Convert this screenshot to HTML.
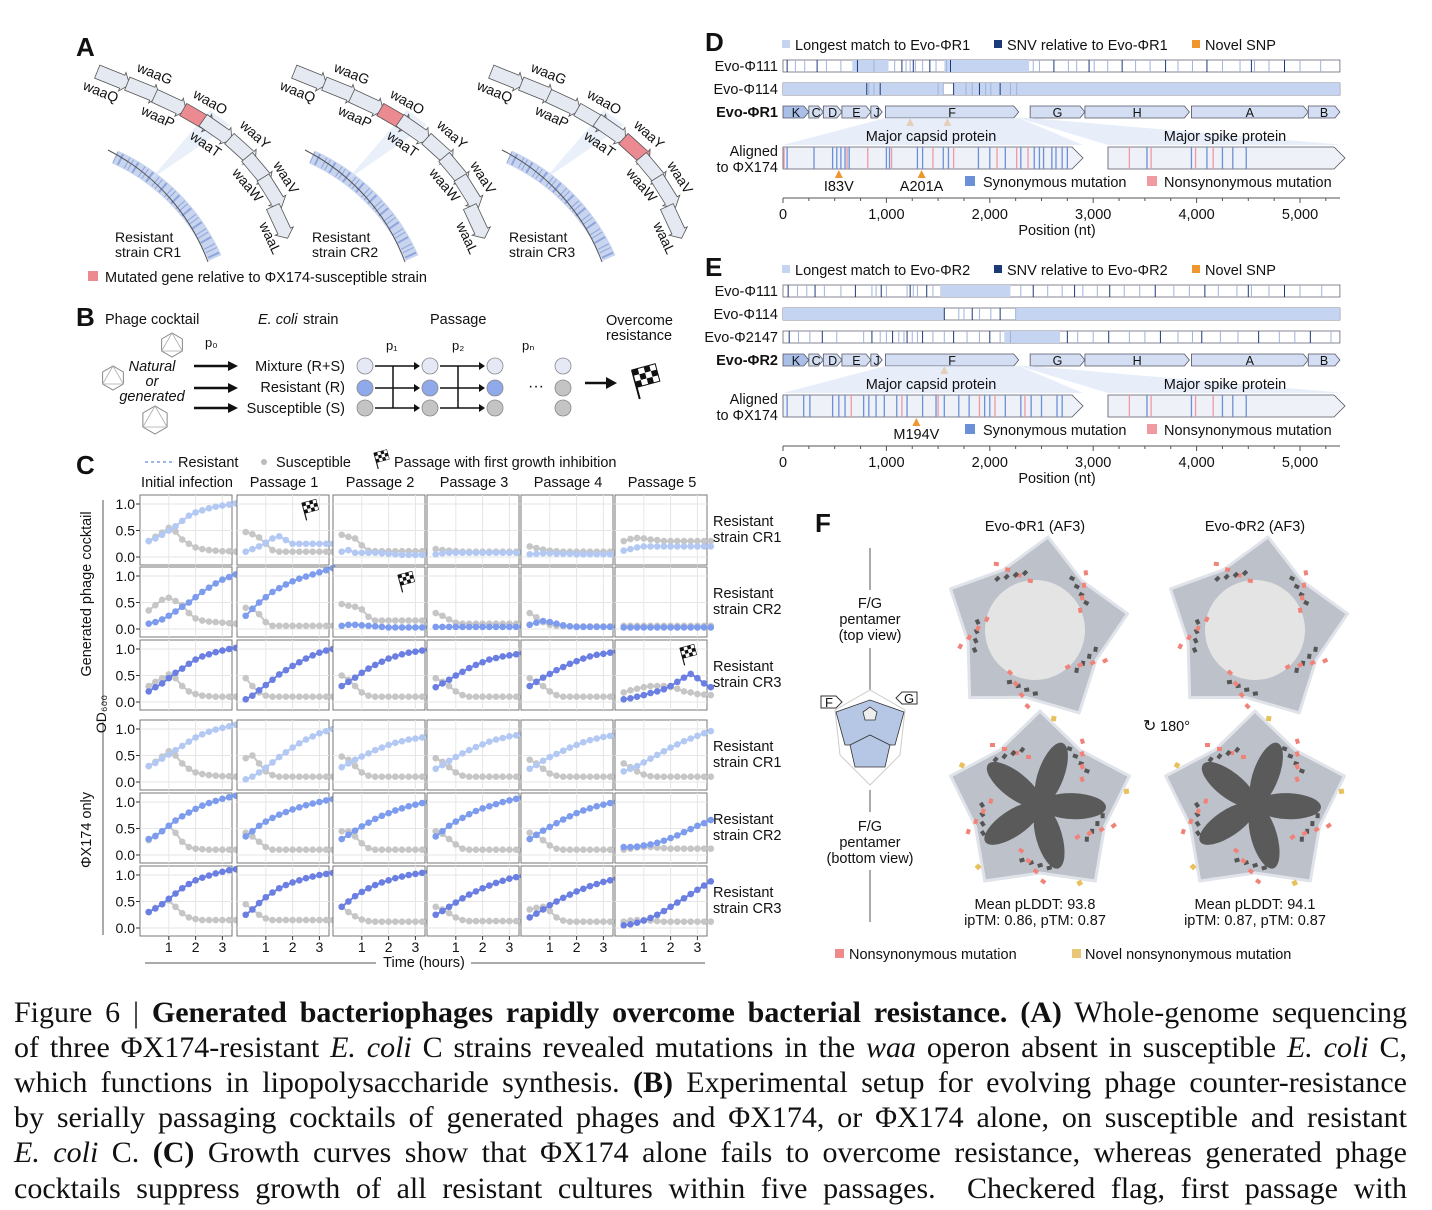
<!DOCTYPE html>
<html><head><meta charset="utf-8">
<style>
html,body{margin:0;padding:0;background:#fff;}
body{width:1432px;height:1210px;position:relative;overflow:hidden;font-family:"Liberation Sans",sans-serif;}
#fig{position:absolute;left:0;top:0;}
.cap{position:absolute;left:14px;width:1393px;font-family:"Liberation Serif",serif;font-size:30px;line-height:35.5px;text-align:justify;text-align-last:justify;white-space:nowrap;color:#111;}
</style></head>
<body>
<svg id="fig" width="1432" height="985" viewBox="0 0 1432 985" xmlns="http://www.w3.org/2000/svg" font-family="Liberation Sans, sans-serif"></svg>
<div>
<div class="cap" style="top:995px"><span>Figure 6 | <b>Generated bacteriophages rapidly overcome bacterial resistance.</b> <b>(A)</b> Whole-genome sequencing</span></div>
<div class="cap" style="top:1030px"><span>of three ΦX174-resistant <i>E. coli</i> C strains revealed mutations in the <i>waa</i> operon absent in susceptible <i>E. coli</i> C,</span></div>
<div class="cap" style="top:1065px"><span>which functions in lipopolysaccharide synthesis. <b>(B)</b> Experimental setup for evolving phage counter-resistance</span></div>
<div class="cap" style="top:1100px"><span>by serially passaging cocktails of generated phages and ΦX174, or ΦX174 alone, on susceptible and resistant</span></div>
<div class="cap" style="top:1135px"><span><i>E. coli</i> C. <b>(C)</b> Growth curves show that ΦX174 alone fails to overcome resistance, whereas generated phage</span></div>
<div class="cap" style="top:1171px"><span>cocktails suppress growth of all resistant cultures within five passages. &nbsp;Checkered flag, first passage with</span></div>
</div>
<script>
// ---------- Panel C data ----------
const times = [0.25,0.5,0.75,1,1.25,1.5,1.75,2,2.25,2.5,2.75,3,3.25,3.5];
const columnTitles = ["Initial infection","Passage 1","Passage 2","Passage 3","Passage 4","Passage 5"];
const rowStrains = ["CR1","CR2","CR3","CR1","CR2","CR3"];
const yTicks = [0.0,0.5,1.0];
const xTicks = [1,2,3];
const flagCells = [[0,1],[1,2],[2,5]];
const resistantSeries = [
 [[0.3,0.35,0.42,0.5,0.58,0.68,0.78,0.84,0.88,0.92,0.95,0.97,0.99,1.01],[0.1,0.15,0.2,0.27,0.35,0.39,0.32,0.25,0.25,0.25,0.25,0.25,0.25,0.25],[0.1,0.13,0.08,0.08,0.08,0.08,0.07,0.06,0.05,0.04,0.04,0.04,0.04,0.04],[0.05,0.07,0.08,0.08,0.08,0.08,0.08,0.08,0.08,0.08,0.08,0.08,0.08,0.08],[0.05,0.06,0.07,0.07,0.06,0.06,0.06,0.05,0.05,0.05,0.05,0.05,0.05,0.05],[0.12,0.15,0.18,0.2,0.2,0.2,0.2,0.2,0.2,0.2,0.2,0.2,0.2,0.2]],
 [[0.1,0.13,0.18,0.25,0.33,0.42,0.5,0.6,0.7,0.78,0.86,0.93,0.98,1.03],[0.25,0.38,0.5,0.6,0.7,0.77,0.84,0.9,0.95,0.99,1.03,1.07,1.11,1.15],[0.06,0.08,0.08,0.07,0.06,0.05,0.04,0.03,0.03,0.03,0.03,0.03,0.03,0.03],[0.04,0.04,0.04,0.04,0.04,0.04,0.04,0.04,0.04,0.04,0.04,0.04,0.04,0.04],[0.08,0.12,0.15,0.13,0.1,0.07,0.05,0.04,0.04,0.04,0.04,0.04,0.04,0.04],[0.03,0.03,0.03,0.03,0.03,0.03,0.03,0.03,0.03,0.03,0.03,0.03,0.03,0.03]],
 [[0.2,0.28,0.35,0.45,0.55,0.63,0.72,0.8,0.86,0.9,0.94,0.97,1.0,1.02],[0.05,0.12,0.22,0.32,0.42,0.52,0.6,0.68,0.75,0.82,0.88,0.93,0.97,1.0],[0.3,0.38,0.46,0.55,0.63,0.7,0.76,0.82,0.86,0.9,0.93,0.95,0.97,0.99],[0.28,0.35,0.42,0.5,0.57,0.64,0.7,0.75,0.8,0.83,0.86,0.88,0.9,0.92],[0.3,0.38,0.46,0.53,0.6,0.66,0.72,0.77,0.82,0.86,0.89,0.91,0.93,0.95],[0.05,0.07,0.1,0.13,0.17,0.2,0.24,0.3,0.38,0.46,0.53,0.45,0.35,0.28]],
 [[0.3,0.36,0.44,0.52,0.6,0.68,0.76,0.84,0.9,0.95,0.99,1.02,1.05,1.08],[0.05,0.1,0.18,0.27,0.37,0.47,0.56,0.65,0.73,0.8,0.86,0.92,0.96,1.0],[0.28,0.35,0.42,0.48,0.54,0.6,0.65,0.7,0.74,0.77,0.8,0.82,0.84,0.86],[0.25,0.32,0.4,0.47,0.54,0.6,0.66,0.71,0.76,0.8,0.83,0.86,0.88,0.9],[0.25,0.32,0.4,0.47,0.53,0.59,0.65,0.7,0.75,0.79,0.82,0.85,0.87,0.89],[0.2,0.25,0.3,0.37,0.44,0.51,0.58,0.65,0.71,0.77,0.82,0.87,0.92,0.96]],
 [[0.3,0.36,0.45,0.55,0.65,0.73,0.8,0.87,0.93,0.98,1.02,1.06,1.09,1.12],[0.35,0.45,0.55,0.63,0.7,0.76,0.81,0.86,0.9,0.94,0.97,1.0,1.03,1.05],[0.3,0.38,0.46,0.54,0.61,0.68,0.74,0.79,0.84,0.88,0.92,0.95,0.98,1.0],[0.35,0.45,0.55,0.63,0.7,0.77,0.83,0.88,0.92,0.96,1.0,1.03,1.06,1.08],[0.3,0.38,0.46,0.53,0.6,0.67,0.73,0.79,0.84,0.88,0.92,0.95,0.98,1.0],[0.15,0.15,0.16,0.18,0.2,0.23,0.27,0.32,0.37,0.43,0.49,0.55,0.6,0.66]],
 [[0.3,0.37,0.45,0.55,0.65,0.75,0.83,0.9,0.95,0.99,1.03,1.06,1.09,1.11],[0.25,0.35,0.47,0.58,0.67,0.75,0.81,0.86,0.9,0.94,0.97,1.0,1.02,1.04],[0.4,0.5,0.6,0.68,0.75,0.81,0.86,0.9,0.94,0.97,1.0,1.02,1.04,1.06],[0.25,0.32,0.4,0.48,0.56,0.63,0.69,0.75,0.8,0.85,0.89,0.93,0.96,0.98],[0.2,0.27,0.35,0.43,0.5,0.57,0.63,0.69,0.74,0.79,0.83,0.87,0.9,0.93],[0.05,0.07,0.1,0.14,0.19,0.25,0.32,0.4,0.48,0.56,0.64,0.72,0.8,0.88]]
];
const susceptibleSeries = [
 [[0.3,0.38,0.46,0.55,0.48,0.33,0.25,0.18,0.15,0.13,0.12,0.11,0.11,0.1],[0.47,0.43,0.37,0.25,0.13,0.1,0.1,0.1,0.1,0.1,0.1,0.1,0.1,0.1],[0.42,0.38,0.35,0.22,0.12,0.11,0.11,0.11,0.11,0.11,0.11,0.11,0.11,0.11],[0.15,0.13,0.12,0.11,0.1,0.1,0.1,0.1,0.1,0.1,0.1,0.1,0.1,0.1],[0.2,0.17,0.14,0.12,0.11,0.1,0.1,0.1,0.1,0.1,0.1,0.1,0.1,0.1],[0.3,0.34,0.36,0.35,0.33,0.32,0.3,0.3,0.3,0.3,0.3,0.3,0.3,0.3]],
 [[0.35,0.45,0.55,0.59,0.53,0.45,0.3,0.2,0.16,0.14,0.13,0.12,0.11,0.1],[0.4,0.38,0.28,0.13,0.06,0.06,0.06,0.06,0.06,0.06,0.06,0.06,0.06,0.06],[0.47,0.44,0.42,0.37,0.23,0.16,0.16,0.16,0.16,0.16,0.16,0.16,0.16,0.16],[0.3,0.25,0.18,0.12,0.1,0.1,0.1,0.1,0.1,0.1,0.1,0.1,0.1,0.1],[0.3,0.22,0.13,0.08,0.06,0.05,0.05,0.05,0.05,0.05,0.05,0.05,0.05,0.05],[0.06,0.06,0.06,0.06,0.06,0.06,0.06,0.06,0.06,0.06,0.06,0.06,0.06,0.06]],
 [[0.3,0.38,0.45,0.52,0.45,0.3,0.2,0.15,0.12,0.11,0.1,0.1,0.1,0.1],[0.45,0.3,0.18,0.12,0.1,0.1,0.1,0.1,0.1,0.1,0.1,0.1,0.1,0.1],[0.5,0.42,0.3,0.18,0.12,0.1,0.1,0.1,0.1,0.1,0.1,0.1,0.1,0.1],[0.45,0.38,0.3,0.2,0.13,0.1,0.1,0.1,0.1,0.1,0.1,0.1,0.1,0.1],[0.45,0.38,0.3,0.2,0.13,0.1,0.1,0.1,0.1,0.1,0.1,0.1,0.1,0.1],[0.18,0.22,0.25,0.28,0.3,0.3,0.3,0.28,0.25,0.2,0.18,0.15,0.14,0.13]],
 [[0.3,0.38,0.48,0.58,0.5,0.35,0.25,0.18,0.15,0.13,0.12,0.11,0.11,0.1],[0.45,0.5,0.35,0.2,0.13,0.1,0.1,0.1,0.1,0.1,0.1,0.1,0.1,0.1],[0.48,0.42,0.3,0.18,0.12,0.1,0.1,0.1,0.1,0.1,0.1,0.1,0.1,0.1],[0.45,0.38,0.28,0.18,0.12,0.1,0.1,0.1,0.1,0.1,0.1,0.1,0.1,0.1],[0.42,0.35,0.25,0.16,0.12,0.1,0.1,0.1,0.1,0.1,0.1,0.1,0.1,0.1],[0.35,0.28,0.2,0.14,0.11,0.1,0.1,0.1,0.1,0.1,0.1,0.1,0.1,0.1]],
 [[0.28,0.35,0.45,0.55,0.42,0.25,0.15,0.12,0.11,0.1,0.1,0.1,0.1,0.1],[0.42,0.35,0.25,0.15,0.1,0.1,0.1,0.1,0.1,0.1,0.1,0.1,0.1,0.1],[0.45,0.45,0.35,0.22,0.13,0.1,0.1,0.1,0.1,0.1,0.1,0.1,0.1,0.1],[0.45,0.4,0.3,0.2,0.12,0.1,0.1,0.1,0.1,0.1,0.1,0.1,0.1,0.1],[0.42,0.38,0.28,0.18,0.12,0.1,0.1,0.1,0.1,0.1,0.1,0.1,0.1,0.1],[0.1,0.12,0.14,0.15,0.15,0.14,0.13,0.12,0.12,0.12,0.12,0.12,0.12,0.12]],
 [[0.3,0.38,0.45,0.52,0.4,0.28,0.2,0.17,0.15,0.15,0.15,0.15,0.15,0.15],[0.45,0.35,0.25,0.18,0.15,0.15,0.15,0.15,0.15,0.15,0.15,0.15,0.15,0.15],[0.4,0.3,0.22,0.16,0.13,0.12,0.12,0.12,0.12,0.12,0.12,0.12,0.12,0.12],[0.4,0.35,0.28,0.2,0.15,0.13,0.13,0.13,0.13,0.13,0.13,0.13,0.13,0.13],[0.35,0.38,0.4,0.32,0.2,0.14,0.12,0.12,0.12,0.12,0.12,0.12,0.12,0.12],[0.12,0.14,0.15,0.15,0.14,0.13,0.12,0.12,0.12,0.12,0.12,0.12,0.12,0.12]]
];
// ---------- Panels D/E genome data (nt) ----------
const genesNt = [["K",0,250],["C",250,390],["D",390,570],["E",570,850],["J",850,960],["F",990,2280],["G",2390,2920],["H",2920,3930],["A",3950,5080],["B",5080,5386]];
const d111Match = [[670,1020],[1560,2380]];
const d111Snv = [40,120,210,330,420,560,720,880,1080,1150,1190,1230,1260,1280,1350,1420,1480,1580,1620,2420,2480,2620,2760,2840,2960,3010,3140,3280,3410,3550,3700,3820,3960,4100,4250,4420,4530,4560,4700,4850,5000,5200];
const d114Match = [[0,1550],[1650,5386]];
const d114Snv = [810,830,880,940,1500,1550,1650,1770,1830,1900,1960,2010,2100,2200,2260];
const capsidSyn = [40,300,480,520,560,600,640,1000,1030,1300,1350,1550,1600,1890,2000,2150,2300,2430,2480,2520,2600,2640,2700,2750];
const capsidNon = [10,620,820,1050,1450,1650,2070,2260,2370];
const spikeSyn = [3520,3950,4100,4250,4350,4480];
const spikeNon = [3350,3560,3990,4160];
const e111Match = [[1520,2200]];
const e111Snv = [50,140,230,310,400,560,700,860,900,950,1000,1200,1230,1260,1300,1390,1450,2300,2420,2560,2700,2820,2900,3040,3160,3300,3450,3600,3780,3930,4080,4210,4390,4500,4530,4700,4850,5000,5210];
const e114Match = [[0,1560],[2250,5386]];
const e114Snv = [1560,1700,1750,1830,1900,2010,2100,2250];
const e2147Match = [[2140,2680]];
const e2147Snv = [60,150,260,380,520,780,860,940,1000,1060,1120,1170,1200,1250,1300,1350,1450,1560,1650,1780,1900,2000,2100,2200,2750,2850,3000,3150,3350,3500,3650,3820,3960,4050,4230,4400,4600,4800,4950,5100,5300];
const eCapsidSyn = [40,200,260,480,540,600,780,830,900,980,1100,1200,1350,1480,1560,1700,1800,1950,2000,2150,2300,2400,2500,2650,2700];
const eCapsidNon = [660,1150,1500,1900,2050,2340];
const eSpikeSyn = [3520,3950,4250,4350,4480];
const eSpikeNon = [3350,3560,3990,4160];
const axisTicksNt = [0,1000,2000,3000,4000,5000];

const svg = document.getElementById('fig');
const NS = "http://www.w3.org/2000/svg";
function mk(tag, attrs, parent, text){
  const e = document.createElementNS(NS, tag);
  for (const k in attrs) e.setAttribute(k, attrs[k]);
  if (text !== undefined) e.textContent = text;
  (parent||svg).appendChild(e);
  return e;
}
function txt(x,y,s,size,opts,parent){
  const o = Object.assign({x:x,y:y,'font-size':size||14,fill:'#111'}, opts||{});
  return mk('text', o, parent, s);
}
function grp(name){ const g = mk('g',{});   return g; }

// ---------- Panel A ----------
const gA = grp('panel-a');
txt(76,56,'A',26,{'font-weight':'bold'},gA);
const geneNames = ['waaQ','waaG','waaP','waaO','waaT','waaY','waaW','waaV','waaL'];
const geneCenters = [[113,78],[143,90],[170,103],[198,118],[217,130],[242,150],[258,170],[272,192],[280,222]];
const geneAngles = [22,22,25,30,35,42,50,58,65];
const redIdx = [3,3,5];
[0,197,394].forEach((dx,gi)=>{
  const g = grp('operon-'+(gi+1)); gA.appendChild(g);
  mk('path',{d:`M ${115+dx} 157 A 200 200 0 0 1 ${215+dx} 258`,fill:'none',stroke:'#c9d5ee','stroke-width':14},g);
  mk('path',{d:`M ${115+dx} 157 A 200 200 0 0 1 ${215+dx} 258`,fill:'none',stroke:'#8ea6de','stroke-width':12,'stroke-dasharray':'1 4 2 6 1 3'},g);
  mk('path',{d:`M ${108+dx} 150 A 207 207 0 0 1 ${208+dx} 262`,fill:'none',stroke:'#555','stroke-width':1},g);
  mk('path',{d:`M ${150+dx} 180 L ${210+dx} 110 L ${230+dx} 125 Z`,fill:'#dbe6f7',opacity:0.6},g);
  geneCenters.forEach((c,i)=>{
    const cx=c[0]+dx, cy=c[1];
    const red = (i===redIdx[gi]);
    const ge = mk('g',{transform:`translate(${cx},${cy}) rotate(${geneAngles[i]})`},g);
    mk('polygon',{points:'-17,-7 10,-7 10,-10 18,0 10,10 10,7 -17,7',fill:red?'#ec8a92':'#e4e9f2',stroke:'#555','stroke-width':0.8},ge);
    const lx = cx + (i%2===0 ? -14 : 10), ly = cy + (i%2===0 ? 18 : -12);
    txt(lx,ly,geneNames[i],14,{transform:`rotate(${geneAngles[i]} ${lx} ${ly})`,'text-anchor':'middle'},g);
  });
  txt(115+dx,242,'Resistant',14,{},g);
  txt(115+dx,257,'strain CR'+(gi+1),14,{},g);
});
mk('rect',{x:88,y:271,width:10,height:10,fill:'#ec8a92'},gA);
txt(105,282,'Mutated gene relative to ΦX174-susceptible strain',14.5,{},gA);

// ---------- Panel B ----------
const gB = grp('panel-b');
txt(76,326,'B',26,{'font-weight':'bold'},gB);
txt(105,324,'Phage cocktail',14.5,{},gB);
txt(258,324,'E. coli',14.5,{'font-style':'italic'},gB); txt(303,324,'strain',14.5,{},gB);
txt(430,324,'Passage',14.5,{},gB);
txt(606,325,'Overcome',14.5,{},gB); txt(606,340,'resistance',14.5,{},gB);
function ico(cx,cy,r){ const pts=[];for(let k=0;k<6;k++){const a=Math.PI/3*k+Math.PI/6;pts.push((cx+r*Math.cos(a))+','+(cy+r*Math.sin(a)));}
  mk('polygon',{points:pts.join(' '),fill:'#fff',stroke:'#888','stroke-width':1},gB);
  mk('polygon',{points:pts.filter((p,i)=>i%2===0).join(' '),fill:'none',stroke:'#aaa','stroke-width':0.8},gB);}
ico(172,345,12); ico(113,378,12); ico(155,420,14);
txt(152,371,'Natural',14.5,{'font-style':'italic','text-anchor':'middle'},gB);
txt(152,386,'or',14.5,{'font-style':'italic','text-anchor':'middle'},gB);
txt(152,401,'generated',14.5,{'font-style':'italic','text-anchor':'middle'},gB);
txt(205,347,'p₀',13,{},gB);
[366,388,408].forEach(y=>{mk('line',{x1:194,y1:y,x2:228,y2:y,stroke:'#111','stroke-width':2.5},gB);mk('polygon',{points:`228,${y-5} 238,${y} 228,${y+5}`,fill:'#111'},gB);});
txt(345,371,'Mixture (R+S)',14.5,{'text-anchor':'end'},gB);
txt(345,392,'Resistant (R)',14.5,{'text-anchor':'end'},gB);
txt(345,413,'Susceptible (S)',14.5,{'text-anchor':'end'},gB);
const bCols=[365,430,495,563], bRows=[366,388,408];
const bFill=[['#e4e9f5','#8fa9ea','#c4c4c4'],['#e4e9f5','#8fa9ea','#c4c4c4'],['#e4e9f5','#8fa9ea','#c4c4c4'],['#e4e9f5','#c4c4c4','#c4c4c4']];
bCols.forEach((x,ci)=>bRows.forEach((y,ri)=>mk('circle',{cx:x,cy:y,r:8,fill:bFill[ci][ri],stroke:'#888','stroke-width':0.8},gB)));
txt(386,350,'p₁',13,{},gB); txt(452,350,'p₂',13,{},gB); txt(522,350,'pₙ',13,{},gB);
[[375,420],[440,485]].forEach(a=>{
  bRows.forEach(y=>{mk('line',{x1:a[0],y1:y,x2:a[1]-5,y2:y,stroke:'#111','stroke-width':1.5},gB);mk('polygon',{points:`${a[1]-6},${y-4} ${a[1]},${y} ${a[1]-6},${y+4}`,fill:'#111'},gB);});
  mk('line',{x1:a[0]+18,y1:366,x2:a[0]+18,y2:408,stroke:'#111','stroke-width':1.5},gB);
});
txt(528,391,'···',16,{},gB);
mk('line',{x1:585,y1:383,x2:608,y2:383,stroke:'#111','stroke-width':2.5},gB);
mk('polygon',{points:'606,377 617,383 606,389',fill:'#111'},gB);
function flag(x,y,s,parent){
  const g=mk('g',{transform:`translate(${x},${y}) scale(${s}) rotate(-15)`},parent);
  mk('line',{x1:0,y1:0,x2:0,y2:30,stroke:'#111','stroke-width':2},g);
  for(let i=0;i<4;i++)for(let j=0;j<3;j++) mk('rect',{x:i*6,y:j*6,width:6,height:6,fill:(i+j)%2?'#fff':'#111'},g);
  mk('rect',{x:0,y:0,width:24,height:18,fill:'none',stroke:'#111','stroke-width':1},g);
}
flag(632,370,1,gB);

// ---------- Panel C ----------
const gC = grp('panel-c');
txt(76,474,'C',26,{'font-weight':'bold'},gC);
mk('line',{x1:145,y1:462,x2:172,y2:462,stroke:'#9db6ee','stroke-width':2,'stroke-dasharray':'3 3'},gC);
txt(178,467,'Resistant',14.5,{},gC);
mk('circle',{cx:264,cy:462,r:3,fill:'#bbb'},gC);
txt(276,467,'Susceptible',14.5,{},gC);
flag(374,453,0.55,gC);
txt(394,467,'Passage with first growth inhibition',14.5,{},gC);
const colX=[140,237,333,427,521,615], rowY=[495,567,640,720,793,866], PW=92, PH=70;
const rColors=['#b3c9f3','#7d9ced','#6b7fe2'];
function xs(ci,t){ return colX[ci]+2+t*26.8; }
function ys(ri,v){ return rowY[ri]+62-v*53; }
columnTitles.forEach((t,ci)=>txt(colX[ci]+PW/2+1,487,t,14.5,{'text-anchor':'middle'},gC));
for(let ri=0;ri<6;ri++){
  for(let ci=0;ci<6;ci++){
    const p = mk('g',{},gC);
    
    
    mk('rect',{x:colX[ci],y:rowY[ri],width:PW,height:PH,fill:'#fff',stroke:'#777','stroke-width':1},p);
    xTicks.forEach(t=>mk('line',{x1:xs(ci,t),y1:rowY[ri],x2:xs(ci,t),y2:rowY[ri]+PH,stroke:'#e6e6e6','stroke-width':1},p));
    yTicks.forEach(v=>mk('line',{x1:colX[ci],y1:ys(ri,v),x2:colX[ci]+PW,y2:ys(ri,v),stroke:'#e6e6e6','stroke-width':1},p));
    [[susceptibleSeries,'#c6c6c6'],[resistantSeries,rColors[ri%3]]].forEach(sp=>{
      const vals = sp[0][ri][ci];
      const d = vals.map((v,i)=>(i?'L':'M')+xs(ci,times[i]).toFixed(1)+' '+ys(ri,v).toFixed(1)).join(' ');
      mk('path',{d:d,fill:'none',stroke:sp[1],'stroke-width':2},p);
      vals.forEach((v,i)=>mk('circle',{cx:xs(ci,times[i]),cy:ys(ri,v),r:3.3,fill:sp[1]},p));
    });
    if(ci===0) yTicks.forEach(v=>{mk('line',{x1:colX[0]-4,y1:ys(ri,v),x2:colX[0],y2:ys(ri,v),stroke:'#333'},p);txt(colX[0]-5,ys(ri,v)+5,v.toFixed(1),14,{'text-anchor':'end'},p);});
  }
  txt(713,rowY[ri]+31,'Resistant',14.5,{},gC);
  txt(713,rowY[ri]+47,'strain '+rowStrains[ri],14.5,{},gC);
}
flagCells.forEach(fc=>flag(colX[fc[1]]+PW-27,rowY[fc[0]]+8,0.6,gC));
colX.forEach((x,ci)=>xTicks.forEach(t=>{mk('line',{x1:xs(ci,t),y1:936,x2:xs(ci,t),y2:940,stroke:'#333'},gC);txt(xs(ci,t),952,String(t),14,{'text-anchor':'middle'},gC);}));
mk('line',{x1:145,y1:963,x2:376,y2:963,stroke:'#555'},gC);
mk('line',{x1:471,y1:963,x2:705,y2:963,stroke:'#555'},gC);
txt(424,967,'Time (hours)',14.5,{'text-anchor':'middle'},gC);
txt(91,594,'Generated phage cocktail',14.5,{'text-anchor':'middle',transform:'rotate(-90 91 594)'},gC);
mk('line',{x1:103,y1:500,x2:103,y2:705,stroke:'#555'},gC);
txt(91,830,'ΦX174 only',14.5,{'text-anchor':'middle',transform:'rotate(-90 91 830)'},gC);
mk('line',{x1:103,y1:722,x2:103,y2:935,stroke:'#555'},gC);
txt(106,714,'OD₆₀₀',14,{'text-anchor':'middle',transform:'rotate(-90 106 714)'},gC);

// ---------- Panels D & E ----------
function nx(nt){ return 783 + nt*0.1034; }
function genomePanel(name,letter,oy,refName,rows,capSyn,capNon,spSyn,spNon,arrows,arrowLabels){
  const g = grp(name);
  txt(705,oy+20,letter,26,{'font-weight':'bold'},g);
  mk('rect',{x:782,y:oy+9,width:8,height:8,fill:'#c5d4f0'},g); txt(795,oy+19,'Longest match to '+refName,14.5,{},g);
  mk('rect',{x:994,y:oy+9,width:8,height:8,fill:'#1c3a78'},g); txt(1007,oy+19,'SNV relative to '+refName,14.5,{},g);
  mk('rect',{x:1192,y:oy+9,width:8,height:8,fill:'#f0962e'},g); txt(1205,oy+19,'Novel SNP',14.5,{},g);
  let y = oy+29;
  rows.forEach(r=>{
    txt(778,y+11,r[0],14.5,{'text-anchor':'end'},g);
    mk('rect',{x:nx(0),y:y,width:nx(5386)-nx(0),height:12,fill:'#fff',stroke:'#667',"stroke-width":0.8},g);
    r[1].forEach(m=>mk('rect',{x:nx(m[0]),y:y,width:nx(m[1])-nx(m[0]),height:12,fill:'#c5d4f0'},g));
    r[2].forEach((s,i)=>mk('line',{x1:nx(s),y1:y,x2:nx(s),y2:y+12,stroke:i%3?'#9fb3da':'#1c3a78','stroke-width':1},g));
    y += 23;
  });
  txt(778,y+11,refName,14.5,{'text-anchor':'end','font-weight':'bold'},g);
  genesNt.forEach(ge=>{
    const x0=nx(ge[1]), x1=nx(ge[2]);
    mk('polygon',{points:`${x0},${y} ${x1-5},${y} ${x1},${y+6} ${x1-5},${y+12} ${x0},${y+12}`,fill:ge[0]==='K'?'#a9bfe8':'#d3def3',stroke:'#556','stroke-width':0.8},g);
    txt((x0+x1)/2,y+11,ge[0],12.5,{'text-anchor':'middle'},g);
  });
  arrows.forEach(a=>mk('polygon',{points:`${nx(a)-4},${y+20} ${nx(a)},${y+12} ${nx(a)+4},${y+20}`,fill:'#f0962e'},g));
  const ay = y+39;
  mk('polygon',{points:`${nx(990)},${y+12} ${nx(2280)},${y+12} 1083,${ay} 783,${ay}`,fill:'#dde7f7',opacity:0.7},g);
  mk('polygon',{points:`${nx(2280)},${y+12} ${nx(2390)},${y+12} 1345,${ay} 1108,${ay}`,fill:'#dde7f7',opacity:0.7},g);
  txt(931,ay-4,'Major capsid protein',14.5,{'text-anchor':'middle'},g);
  txt(1225,ay-4,'Major spike protein',14.5,{'text-anchor':'middle'},g);
  txt(778,ay+11,'Aligned',14.5,{'text-anchor':'end'},g);
  txt(778,ay+27,'to ΦX174',14.5,{'text-anchor':'end'},g);
  mk('polygon',{points:`783,${ay+2} 1072,${ay+2} 1083,${ay+13} 1072,${ay+24} 783,${ay+24}`,fill:'#eef1f7',stroke:'#556','stroke-width':0.8},g);
  mk('polygon',{points:`1108,${ay+2} 1334,${ay+2} 1345,${ay+13} 1334,${ay+24} 1108,${ay+24}`,fill:'#eef1f7',stroke:'#556','stroke-width':0.8},g);
  capSyn.forEach(s=>mk('line',{x1:nx(s),y1:ay+2,x2:nx(s),y2:ay+24,stroke:'#6c90d8','stroke-width':1.3},g));
  capNon.forEach(s=>mk('line',{x1:nx(s),y1:ay+2,x2:nx(s),y2:ay+24,stroke:'#ee9aa0','stroke-width':1.3},g));
  spSyn.forEach(s=>mk('line',{x1:nx(s),y1:ay+2,x2:nx(s),y2:ay+24,stroke:'#6c90d8','stroke-width':1.3},g));
  spNon.forEach(s=>mk('line',{x1:nx(s),y1:ay+2,x2:nx(s),y2:ay+24,stroke:'#ee9aa0','stroke-width':1.3},g));
  arrowLabels.forEach(al=>{mk('polygon',{points:`${nx(al[0])-4},${ay+33} ${nx(al[0])},${ay+25} ${nx(al[0])+4},${ay+33}`,fill:'#f0962e'},g);txt(nx(al[0]),ay+46,al[1],14.5,{'text-anchor':'middle'},g);});
  mk('rect',{x:965,y:ay+31,width:10,height:10,fill:'#6c90d8'},g); txt(983,ay+42,'Synonymous mutation',14.5,{},g);
  mk('rect',{x:1147,y:ay+31,width:10,height:10,fill:'#ee9aa0'},g); txt(1164,ay+42,'Nonsynonymous mutation',14.5,{},g);
  const axy = ay+53;
  mk('line',{x1:783,y1:axy,x2:1340,y2:axy,stroke:'#555'},g);
  for(let n=0;n<=5300;n+=250) mk('line',{x1:nx(n),y1:axy,x2:nx(n),y2:axy+(n%1000?3:5),stroke:'#555'},g);
  axisTicksNt.forEach(n=>txt(nx(n),axy+21,n.toLocaleString('en-US'),14.5,{'text-anchor':'middle'},g));
  txt(1057,axy+37,'Position (nt)',14.5,{'text-anchor':'middle'},g);
}
genomePanel('panel-d','D',31,'Evo-ΦR1',[['Evo-Φ111',d111Match,d111Snv],['Evo-Φ114',d114Match,d114Snv]],capsidSyn,capsidNon,spikeSyn,spikeNon,[1230,1590],[[540,'I83V'],[1340,'A201A']]);
genomePanel('panel-e','E',256,'Evo-ΦR2',[['Evo-Φ111',e111Match,e111Snv],['Evo-Φ114',e114Match,e114Snv],['Evo-Φ2147',e2147Match,e2147Snv]],eCapsidSyn,eCapsidNon,eSpikeSyn,eSpikeNon,[1560],[[1290,'M194V']]);

// ---------- Panel F ----------
const gF = grp('panel-f');
txt(815,532,'F',26,{'font-weight':'bold'},gF);
txt(1035,531,'Evo-ΦR1 (AF3)',14.5,{'text-anchor':'middle'},gF);
txt(1255,531,'Evo-ΦR2 (AF3)',14.5,{'text-anchor':'middle'},gF);
mk('line',{x1:870,y1:548,x2:870,y2:590,stroke:'#555'},gF);
['F/G','pentamer','(top view)'].forEach((s,i)=>txt(870,608+i*16,s,14.5,{'text-anchor':'middle'},gF));
mk('line',{x1:870,y1:648,x2:870,y2:690,stroke:'#555'},gF);
mk('polygon',{points:'840,755 870,785 900,755 905,710 870,690 835,710',fill:'none',stroke:'#ccc'},gF);
mk('polygon',{points:'836,712 870,700 904,712 895,745 845,745',fill:'#b6c7e6',stroke:'#333','stroke-width':0.8},gF);
mk('polygon',{points:'850,745 870,735 890,745 885,767 855,767',fill:'#b6c7e6',stroke:'#333','stroke-width':0.8},gF);
mk('polygon',{points:'863,712 870,707 877,712 875,720 865,720',fill:'#eee',stroke:'#333','stroke-width':0.8},gF);
mk('polygon',{points:'821,696 836,696 842,702 836,708 821,708',fill:'#fff',stroke:'#333'},gF); txt(825,707,'F',13,{},gF);
mk('polygon',{points:'917,692 902,692 896,698 902,704 917,704',fill:'#fff',stroke:'#333'},gF); txt(904,703,'G',13,{},gF);
mk('line',{x1:870,y1:790,x2:870,y2:812,stroke:'#555'},gF);
['F/G','pentamer','(bottom view)'].forEach((s,i)=>txt(870,831+i*16,s,14.5,{'text-anchor':'middle'},gF));
mk('line',{x1:870,y1:870,x2:870,y2:922,stroke:'#555'},gF);
function pentamer(cx,cy,rot,bottom,novel,name){
  const g = mk('g',{transform:`translate(${cx},${cy}) rotate(${rot})`},gF);
  
  
  const pts=[];
  for(let k=0;k<10;k++){const a=-Math.PI/2+k*Math.PI/5;const r=k%2?68:94;pts.push((r*Math.cos(a)).toFixed(1)+','+(r*Math.sin(a)).toFixed(1));}
  mk('polygon',{points:pts.join(' '),fill:'#bcc1ca',stroke:'#e0e4ea','stroke-width':3,'stroke-linejoin':'round'},g);
  if(!bottom){ mk('circle',{cx:0,cy:0,r:50,fill:'#e4e4e4'},g); }
  else { for(let k=0;k<5;k++) mk('ellipse',{cx:0,cy:-33,rx:13,ry:33,fill:'#5a5a5a',transform:`rotate(${k*72+20}) `},g); }
  for(let k=0;k<5;k++){
    for(let j=0;j<4;j++){ mk('rect',{x:-50+j*12,y:-62+j*4,width:5,height:4,fill:'#f08278',transform:`rotate(${k*72})`},g);
      mk('rect',{x:30-j*8,y:-50-j*5,width:5,height:4,fill:'#555',transform:`rotate(${k*72+20})`},g);}
    if(novel) mk('rect',{x:-4,y:-90,width:5,height:5,fill:'#e8c15c',transform:`rotate(${k*72+10})`},g);
  }
}
pentamer(1035,630,8,false,false,'structure-r1-top');
pentamer(1255,630,8,false,false,'structure-r2-top');
pentamer(1040,805,0,true,true,'structure-r1-bottom');
pentamer(1255,805,0,true,true,'structure-r2-bottom');
txt(1143,731,'↻',16,{},gF); txt(1160,731,'180°',14.5,{},gF);
txt(1035,909,'Mean pLDDT: 93.8',14.5,{'text-anchor':'middle'},gF);
txt(1035,925,'ipTM: 0.86, pTM: 0.87',14.5,{'text-anchor':'middle'},gF);
txt(1255,909,'Mean pLDDT: 94.1',14.5,{'text-anchor':'middle'},gF);
txt(1255,925,'ipTM: 0.87, pTM: 0.87',14.5,{'text-anchor':'middle'},gF);
mk('rect',{x:835,y:949,width:9,height:9,fill:'#ee8a8a'},gF); txt(849,959,'Nonsynonymous mutation',14.5,{},gF);
mk('rect',{x:1072,y:949,width:9,height:9,fill:'#e8c778'},gF); txt(1085,959,'Novel nonsynonymous mutation',14.5,{},gF);
</script>
</body></html>
